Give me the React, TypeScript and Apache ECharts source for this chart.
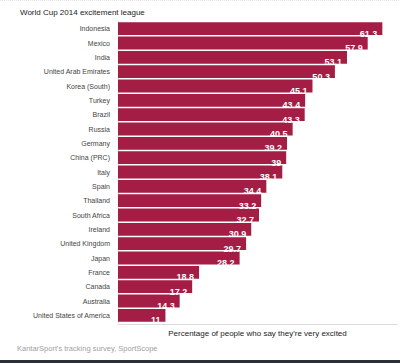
import React, { useEffect, useRef } from "react";
import * as echarts from "echarts";

const countries = [
  "Indonesia",
  "Mexico",
  "India",
  "United Arab Emirates",
  "Korea (South)",
  "Turkey",
  "Brazil",
  "Russia",
  "Germany",
  "China (PRC)",
  "Italy",
  "Spain",
  "Thailand",
  "South Africa",
  "Ireland",
  "United Kingdom",
  "Japan",
  "France",
  "Canada",
  "Australia",
  "United States of America",
];
const excitedPct = [
  61.3, 57.9, 53.1, 50.3, 45.1, 43.4, 43.3, 40.5, 39.2, 39, 38.1, 34.4, 33.2,
  32.7, 30.9, 29.7, 28.2, 18.8, 17.2, 14.3, 11,
];
const titleText = "World Cup 2014 excitement league";
const axisTitle = "Percentage of people who say they're very excited";
const sourceText = "KantarSport's tracking survey, SportScope";

const FONT = "'Liberation Sans', Arial, sans-serif";

export default function App() {
  const ref = useRef<HTMLDivElement>(null);
  useEffect(() => {
    if (!ref.current) return;
    const chart = echarts.init(ref.current, null, { renderer: "svg" });
    chart.setOption({
      animation: false,
      backgroundColor: "#ffffff",
      title: {
        text: titleText,
        left: 15,
        top: 3,
        textStyle: {
          fontSize: 8,
          fontWeight: "normal",
          color: "#222",
          fontFamily: FONT,
        },
      },
      grid: { left: 118, right: 3, top: 21.5, height: 301 },
      xAxis: {
        type: "value",
        min: 0,
        max: 64.7,
        offset: 2,
        axisLine: { show: true, lineStyle: { color: "#dcdcdc", width: 1 } },
        axisTick: { show: false },
        axisLabel: { show: false },
        splitLine: { show: false },
        name: axisTitle,
        nameLocation: "middle",
        nameGap: 5,
        nameTextStyle: {
          fontSize: 8,
          color: "#222",
          fontFamily: FONT,
          verticalAlign: "top",
        },
      },
      yAxis: {
        type: "category",
        data: countries,
        inverse: true,
        offset: 6,
        axisLine: { show: true, lineStyle: { color: "#dcdcdc", width: 1 } },
        axisTick: { show: false },
        axisLabel: {
          margin: 2,
          fontSize: 7,
          color: "#444",
          fontFamily: FONT,
        },
      },
      series: [
        {
          type: "bar",
          data: excitedPct,
          barCategoryGap: "11%",
          itemStyle: { color: "#a31d45" },
          label: {
            show: true,
            position: "insideBottomRight",
            distance: 5,
            offset: [0, 8],
            color: "#fff",
            fontSize: 9,
            fontWeight: "bold",
            fontFamily: FONT,
          },
        },
      ],
      graphic: [
        {
          type: "text",
          left: 17,
          top: 344,
          style: {
            text: sourceText,
            fontSize: 7.5,
            fill: "#a0a0a0",
            fontFamily: FONT,
          },
        },
        {
          type: "rect",
          left: 0,
          top: 360,
          shape: { width: 400, height: 3 },
          style: { fill: "#2b2f36" },
        },
        {
          type: "line",
          shape: { x1: 0, y1: 0.5, x2: 400, y2: 0.5 },
          style: { stroke: "#e4e4e4", lineWidth: 1, lineDash: [1, 1] },
        },
      ],
    });
    return () => chart.dispose();
  }, []);
  return (
    <div
      ref={ref}
      style={{ position: "fixed", left: 0, top: 0, width: 400, height: 363 }}
    />
  );
}
